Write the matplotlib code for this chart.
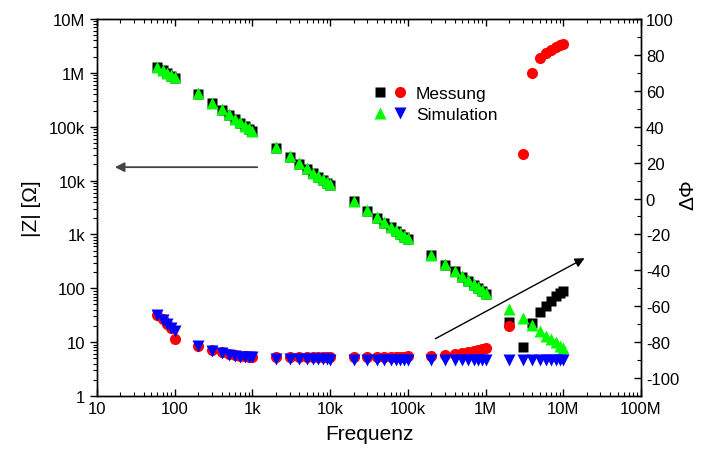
import matplotlib.pyplot as plt
from matplotlib.legend_handler import HandlerTuple
from matplotlib.ticker import FixedLocator, FixedFormatter, LogLocator, MultipleLocator, NullFormatter

plt.rcParams['font.family'] = ['Liberation Sans', 'DejaVu Sans']
plt.rcParams['axes.unicode_minus'] = False

# Frequenz [Hz]
freq = [60, 70, 80, 90,
        100, 200, 300, 400, 500, 600, 700, 800, 900,
        1e3, 2e3, 3e3, 4e3, 5e3, 6e3, 7e3, 8e3, 9e3,
        1e4, 2e4, 3e4, 4e4, 5e4, 6e4, 7e4, 8e4, 9e4,
        1e5, 2e5, 3e5, 4e5, 5e5, 6e5, 7e5, 8e5, 9e5,
        1e6, 2e6, 3e6, 4e6, 5e6, 6e6, 7e6, 8e6, 9e6,
        1e7]

# |Z| Simulation
z_sim = [1.30e6, 1.15e6, 1.0e6, 0.9e6,
         8.2e5, 4.2e5, 2.8e5, 2.1e5, 1.7e5, 1.4e5, 1.2e5, 1.05e5, 9.3e4,
         8.4e4, 4.2e4, 2.8e4, 2.1e4, 1.7e4, 1.4e4, 1.2e4, 1.05e4, 9.3e3,
         8.5e3, 4.2e3, 2.8e3, 2.1e3, 1.7e3, 1.4e3, 1.2e3, 1.05e3, 930,
         850, 420, 280, 210, 170, 140, 120, 105, 93,
         82, 42, 28, 21, 16, 13, 11.5, 10, 8.6,
         7.9]

# |Z| Messung
z_mess = [1.28e6, 1.13e6, 0.98e6, 0.88e6,
          8.0e5, 4.1e5, 2.75e5, 2.05e5, 1.65e5, 1.37e5, 1.17e5, 1.02e5, 9.1e4,
          8.2e4, 4.1e4, 2.75e4, 2.05e4, 1.65e4, 1.37e4, 1.17e4, 1.02e4, 9.1e3,
          8.3e3, 4.1e3, 2.75e3, 2.05e3, 1.65e3, 1.37e3, 1.17e3, 1.02e3, 910,
          830, 410, 275, 205, 165, 137, 117, 102, 90,
          80, 24, 8.2, 23, 36, 47, 59, 72, 83,
          90]

# Phase Simulation
phi_sim = [-65, -67.5, -70, -72,
           -74, -82, -85, -86, -87, -87.5, -88, -88, -88.5,
           -88.5, -89.5, -89.5, -89.5, -89.5, -89.5, -89.5, -89.5, -89.5,
           -90, -90, -90, -90, -90, -90, -90, -90, -90,
           -90, -90, -90, -90, -90, -90, -90, -90, -90,
           -90, -90, -90, -90, -90, -90, -90, -90, -90,
           -90]

# Phase Messung
phi_mess = [-65, -67, -70, -72,
            -78, -82, -84.5, -85.5, -86.5, -87, -87.5, -87.5, -88,
            -88, -88.5, -88.5, -88.5, -88.5, -88.5, -88.5, -88.5, -88.5,
            -88.5, -88.5, -88.5, -88.5, -88.5, -88.5, -88.5, -88.5, -88,
            -87.5, -87.5, -87, -86.5, -86, -85.5, -85, -84.5, -84,
            -83.5, -71, 25, 70, 78, 81, 83, 84.5, 85.5,
            86]

x_ticks = [10, 100, 1e3, 1e4, 1e5, 1e6, 1e7, 1e8]
x_labels = ['10', '100', '1k', '10k', '100k', '1M', '10M', '100M']
z_ticks = [1, 10, 100, 1e3, 1e4, 1e5, 1e6, 1e7]
z_labels = ['1', '10', '100', '1k', '10k', '100k', '1M', '10M']

fig = plt.figure(figsize=(7.01, 4.64), dpi=100)
ax = fig.add_axes([0.1384, 0.1444, 0.776, 0.8125])
ax2 = ax.twinx()

ms = 8
l_mess_z, = ax.plot(freq, z_mess, 's', color='black', ms=ms - 1, mec='none')
l_sim_z, = ax.plot(freq, z_sim, '^', color='#00ff00', ms=ms, mec='none')
l_mess_phi, = ax2.plot(freq, phi_mess, 'o', color='#ff0000', ms=ms, mec='none')
l_sim_phi, = ax2.plot(freq, phi_sim, 'v', color='#0000ff', ms=ms, mec='none')

ax.set_xscale('log')
ax.set_yscale('log')
ax.set_xlim(10, 1e8)
ax.set_ylim(1, 1e7)
ax2.set_ylim(-110, 100)

ax.xaxis.set_major_locator(FixedLocator(x_ticks))
ax.xaxis.set_major_formatter(FixedFormatter(x_labels))
ax.xaxis.set_minor_locator(LogLocator(base=10, subs=range(2, 10), numticks=20))
ax.xaxis.set_minor_formatter(NullFormatter())
ax.yaxis.set_major_locator(FixedLocator(z_ticks))
ax.yaxis.set_major_formatter(FixedFormatter(z_labels))
ax.yaxis.set_minor_locator(LogLocator(base=10, subs=range(2, 10), numticks=20))
ax.yaxis.set_minor_formatter(NullFormatter())

ax2.yaxis.set_major_locator(MultipleLocator(20))
ax2.yaxis.set_minor_locator(MultipleLocator(10))

ax.tick_params(axis='y', which='major', direction='out', length=5, width=1, labelsize=12)
ax.tick_params(axis='y', which='minor', direction='out', length=3, width=0.8)
ax.tick_params(axis='x', which='major', direction='in', length=5, width=1, labelsize=12, top=True)
ax.tick_params(axis='x', which='minor', direction='in', length=3, width=0.8, top=True)
ax2.tick_params(axis='y', which='major', direction='in', length=5, width=1, labelsize=12)
ax2.tick_params(axis='y', which='minor', direction='in', length=3, width=0.8)
for a in (ax, ax2):
    for s in a.spines.values():
        s.set_linewidth(1.0)

ax.set_xlabel('Frequenz', fontsize=15, labelpad=6)
ax.set_ylabel('|Z| [Ω]', fontsize=15, labelpad=6)
fig.text(688 / 701, 1 - 195 / 464, 'ΔΦ', rotation=90, fontsize=15, ha='center', va='center')

# Pfeile: welche Achse gehoert zu welchen Daten
ax2.annotate('', xy=(0.0276, 0.607), xytext=(0.2996, 0.607), xycoords='axes fraction',
             arrowprops=dict(arrowstyle='-|>', color='#444444', lw=1.3, mutation_scale=14))
ax2.annotate('', xy=(0.9007, 0.369), xytext=(0.6176, 0.1485), xycoords='axes fraction',
             arrowprops=dict(arrowstyle='-|>', color='black', lw=1.0, mutation_scale=14))

ax2.legend([(l_mess_z, l_mess_phi), (l_sim_z, l_sim_phi)], ['Messung', 'Simulation'],
           handler_map={tuple: HandlerTuple(ndivide=None, pad=0.3)},
           loc='upper left', bbox_to_anchor=(0.478, 0.865), frameon=False,
           fontsize=12.5, handlelength=2.0, handletextpad=0.5, labelspacing=0.35)

fig.savefig('out.png', dpi=100)
